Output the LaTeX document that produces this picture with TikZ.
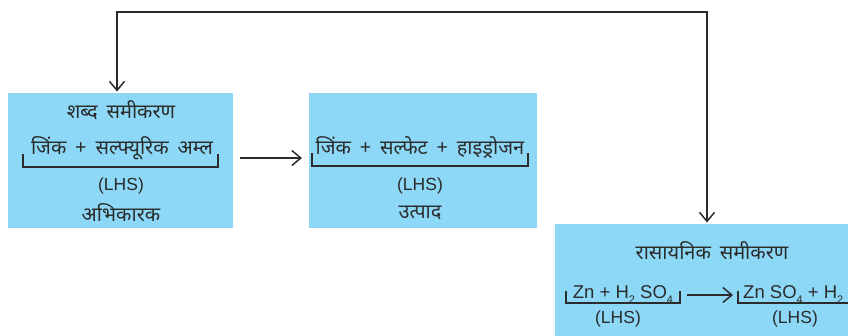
\documentclass[tikz,border=0pt]{standalone}
\usepackage{fontspec}
\setmainfont{Liberation Sans}
\newfontfamily\deva[Script=Devanagari,WordSpace=1.7]{Noto Sans}
\usetikzlibrary{arrows.meta}
\definecolor{boxblue}{HTML}{8CD8F6}
\definecolor{ink}{HTML}{2B2B2B}
\newcommand\sbs[1]{\raisebox{-0.55ex}{\fontsize{11}{11}\selectfont #1}}
\tikzset{
  panel/.style={fill=boxblue, draw=none, anchor=north west, inner sep=0pt},
  dtext/.style={font=\deva\fontsize{20}{22}\selectfont, inner sep=0pt, text=ink},
  ltext/.style={font=\fontsize{17.5}{20}\selectfont, inner sep=0pt, text=ink},
  ctext/.style={font=\fontsize{18.5}{20}\selectfont, inner sep=0pt, text=ink},
  brace/.style={draw=ink, line width=1.5pt},
  tip/.tip={Straight Barb[length=9pt,width=15pt,line width=1.5pt]},
  flow/.style={draw=ink, line width=1.3pt, -tip},
}
\begin{document}
\begin{tikzpicture}[x=1pt,y=-1pt]
\useasboundingbox (0,0) rectangle (848,335);
\clip (0,0) rectangle (848,335);

% three panels
\node[panel, minimum width=225pt, minimum height=135pt] (box1) at (8,93) {};
\node[panel, minimum width=228pt, minimum height=135pt] (box2) at (309,93) {};
\node[panel, minimum width=300pt, minimum height=115pt] (box3) at (555,224) {};

% word equation: reactants
\node[dtext] (t1) at (121,110) {शब्द समीकरण};
\node[dtext] (e1) at (122,148) {जिंक + सल्फ्यूरिक अम्ल};
\draw[brace] (23,154) -- (23,167) -- (218,167) -- (218,154);
\node[ltext] (l1) at (121,186) {(LHS)};
\node[dtext] (r1) at (121,213) {अभिकारक};

% word equation: products
\node[dtext] (e2) at (420,148) {जिंक + सल्फेट + हाइड्रोजन};
\draw[brace] (312,153) -- (312,166) -- (528,166) -- (528,153);
\node[ltext] (l2) at (420,186) {(LHS)};
\node[dtext] (r2) at (420,213) {उत्पाद};

% chemical equation
\node[dtext] (t3) at (712,251) {रासायनिक समीकरण};
\node[ctext, anchor=base] (c1) at (623,298) {Zn + H\sbs{2} SO\sbs{4}};
\draw[brace] (566,291) -- (566,303) -- (680,303) -- (680,291);
\node[ctext, anchor=base west] (c2) at (743,298) {Zn SO\sbs{4} + H\sbs{2}};
\draw[brace] (738,291) -- (738,303) -- (860,303);
\node[ltext] (l3) at (618,319) {(LHS)};
\node[ltext] (l4) at (795,319) {(LHS)};

% connectors
\coordinate (tl) at (117,12);
\coordinate (tr) at (707,12);
\coordinate (a1) at (240,158);
\coordinate (a2) at (687,295);
\coordinate (a3) at (733,295);
\draw[flow, shorten >=1pt] (a1) -- ([xshift=-6pt]box2.west |- a1);
\draw[flow, tip-tip, shorten >=1.5pt, shorten <=1.5pt] (tr |- box3.north) -- (tr) -- (tl) -- (tl |- box1.north);
\draw[flow] (a2) -- (a3);
\end{tikzpicture}
\end{document}
